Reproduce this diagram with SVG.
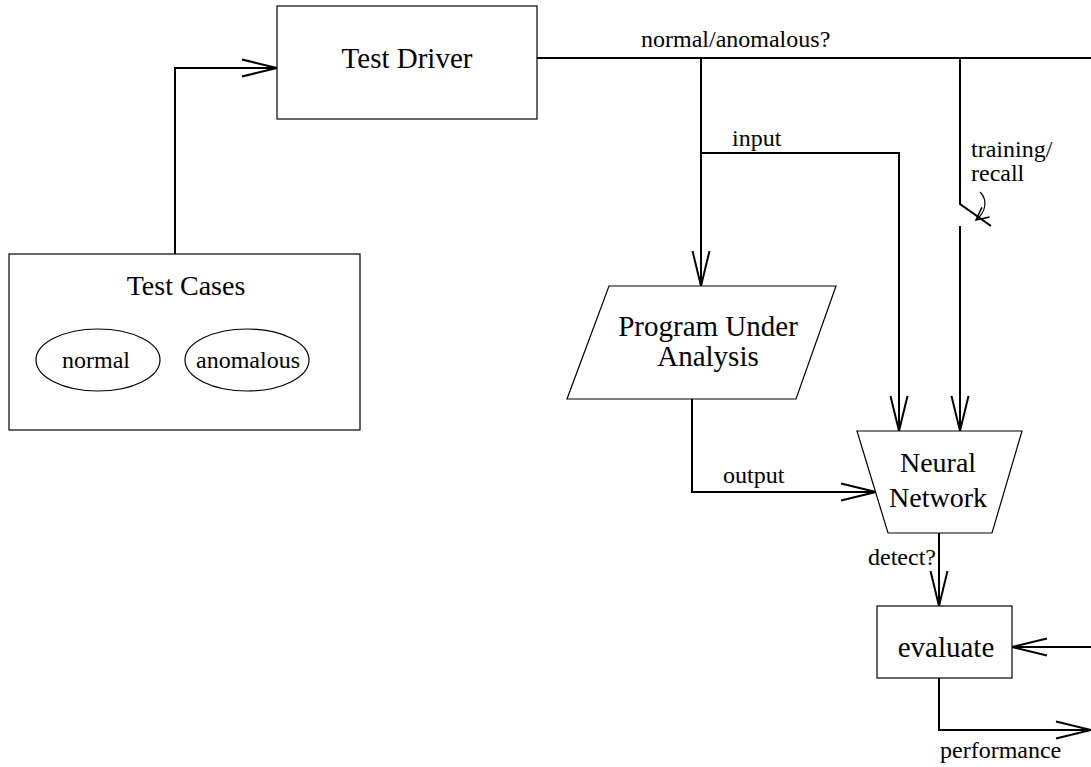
<svg xmlns="http://www.w3.org/2000/svg" width="1091" height="767" viewBox="0 0 1091 767">
<defs>
<style>
.box{fill:#fff;stroke:#000;stroke-width:1.2}
.con{fill:none;stroke:#000;stroke-width:2}
.big{font-family:"Liberation Serif","Times New Roman",serif;font-size:29px;fill:#000}
.sm{font-family:"Liberation Serif","Times New Roman",serif;font-size:24px;fill:#000}
</style>
<marker id="arr" markerUnits="userSpaceOnUse" markerWidth="42" markerHeight="24" viewBox="-38 -12 42 24" refX="0" refY="0" orient="auto">
<path d="M-35,-8.5 L0,0 L-35,8.5" fill="none" stroke="#000" stroke-width="2"/>
</marker>
<marker id="sarr" markerUnits="userSpaceOnUse" markerWidth="20" markerHeight="20" viewBox="-12 -8 16 16" refX="0" refY="0" orient="auto">
<path d="M-10,-5 L0,0 L-10,5" fill="none" stroke="#000" stroke-width="1.2"/>
</marker>
</defs>
<g id="connectors">
<path class="con" d="M175,254 V68 H277" marker-end="url(#arr)"/>
<path class="con" d="M537,58 H1091"/>
<path class="con" d="M701,58 V286" marker-end="url(#arr)"/>
<path class="con" d="M701,153 H899 V431" marker-end="url(#arr)"/>
<path class="con" d="M960,58 V204 L991,226"/>
<path class="con" d="M960,226 V431" marker-end="url(#arr)"/>
<path class="con" d="M692,399 V492 H876" marker-end="url(#arr)"/>
<path class="con" d="M939,533 V606" marker-end="url(#arr)"/>
<path class="con" d="M1091,647 H1012" marker-end="url(#arr)"/>
<path class="con" d="M939,678 V730 H1091" marker-end="url(#arr)"/>
<path d="M980,192 C988,200 986,212 976,220" fill="none" stroke="#000" stroke-width="1.2" marker-end="url(#sarr)"/>
<text class="sm" x="641" y="47">normal/anomalous?</text>
<text class="sm" x="732" y="146">input</text>
<text class="sm" x="971" y="157">training/</text>
<text class="sm" x="971" y="181">recall</text>
<text class="sm" x="723" y="483">output</text>
<text class="sm" x="936" y="565" text-anchor="end">detect?</text>
<text class="sm" x="940" y="758">performance</text>
</g>
<g id="test-driver">
<rect class="box" x="277" y="6" width="260" height="113"/>
<text class="big" x="407" y="68" text-anchor="middle">Test Driver</text>
</g>
<g id="test-cases">
<rect class="box" x="9" y="254" width="351" height="176"/>
<text class="big" x="186" y="295" text-anchor="middle" style="font-size:28px">Test Cases</text>
<ellipse class="box" cx="98" cy="360" rx="62" ry="31"/>
<text class="sm" x="96" y="368" text-anchor="middle">normal</text>
<ellipse class="box" cx="247" cy="360" rx="62" ry="31"/>
<text class="sm" x="248" y="368" text-anchor="middle">anomalous</text>
</g>
<g id="program">
<polygon class="box" points="609,286 836,286 796,399 567,399"/>
<text class="big" x="708" y="336" text-anchor="middle">Program Under</text>
<text class="big" x="708" y="366" text-anchor="middle">Analysis</text>
</g>
<g id="neural-network">
<polygon class="box" points="857,431 1022,431 992,533 888,533"/>
<text class="big" x="938" y="472" text-anchor="middle" style="font-size:28px">Neural</text>
<text class="big" x="938" y="507" text-anchor="middle" style="font-size:28px">Network</text>
</g>
<g id="evaluate">
<rect class="box" x="877" y="606" width="135" height="72"/>
<text class="big" x="946" y="657" text-anchor="middle">evaluate</text>
</g>
</svg>
